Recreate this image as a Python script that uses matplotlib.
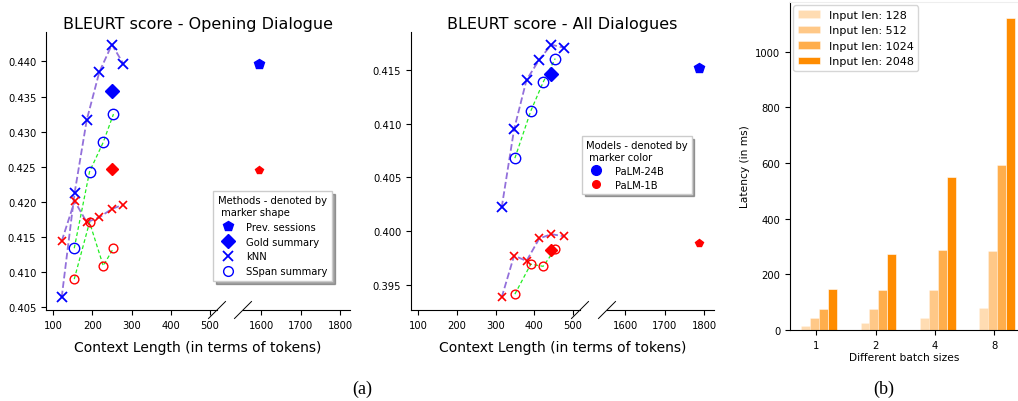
import matplotlib
matplotlib.use('Agg')
import matplotlib.pyplot as plt
from matplotlib.lines import Line2D

# ---------------- data ----------------
# Opening Dialogue
od_knn_x = [122, 155, 186, 218, 250, 279]
od_knn_24b = [0.4064, 0.4213, 0.4317, 0.4385, 0.4424, 0.4397]
od_knn_1b = [0.4144, 0.4201, 0.4171, 0.4178, 0.4190, 0.4196]
od_sspan_x = [154, 193, 228, 254]
od_sspan_24b = [0.4134, 0.4243, 0.4285, 0.4325]
od_sspan_1b = [0.4090, 0.4171, 0.4109, 0.4134]
od_gold_x = [251]
od_gold_24b = [0.4358]
od_gold_1b = [0.4247]
od_prev_x = [1593]
od_prev_24b = [0.4396]
od_prev_1b = [0.4246]
od_yticks = [0.405, 0.410, 0.415, 0.420, 0.425, 0.430, 0.435, 0.440]

# All Dialogues
ad_knn_x = [316, 348, 380, 413, 444, 477]
ad_knn_24b = [0.4022, 0.4095, 0.4141, 0.4160, 0.4174, 0.4171]
ad_knn_1b = [0.3938, 0.3977, 0.3972, 0.3993, 0.3997, 0.3995]
ad_sspan_x = [350, 391, 423, 454]
ad_sspan_24b = [0.4068, 0.4112, 0.4139, 0.4161]
ad_sspan_1b = [0.3941, 0.3969, 0.3967, 0.3983]
ad_gold_x = [443]
ad_gold_24b = [0.4147]
ad_gold_1b = [0.3982]
ad_prev_x = [1786]
ad_prev_24b = [0.4152]
ad_prev_1b = [0.3989]
ad_yticks = [0.395, 0.400, 0.405, 0.410, 0.415]

left_xticks = [100, 200, 300, 400, 500]
right_xticks = [1600, 1700, 1800]

# Latency
batch_sizes = ['1', '2', '4', '8']
input_lens = ['Input len: 128', 'Input len: 512', 'Input len: 1024', 'Input len: 2048']
lat_128 = [16, 25, 42, 79]
lat_512 = [42, 75, 142, 283]
lat_1024 = [77, 142, 288, 592]
lat_2048 = [147, 273, 548, 1122]

# ---------------- figure ----------------
W, H = 1018, 402
fig = plt.figure(figsize=(W / 100, H / 100), dpi=100)

def fx(px):
    return px / W

def fy(py):
    return 1 - py / H

TICK_FS = 7.2
BLUE, RED = '#0000ff', '#ff0000'
KNN_LC, SS_LC = '#9370db', '#22ee22'


def make_panel(x0, x1, x2, x3, top, bottom, data, yticks, title):
    (knn_x, knn_b, knn_r, ss_x, ss_b, ss_r, g_x, g_b, g_r, p_x, p_b, p_r) = data
    axl = fig.add_axes([fx(x0), fy(bottom), fx(x1 - x0), (bottom - top) / H])
    axr = fig.add_axes([fx(x2), fy(bottom), fx(x3 - x2), (bottom - top) / H], sharey=axl)
    # lines
    axl.plot(knn_x, knn_b, ls='--', color=KNN_LC, lw=1.3, zorder=1)
    axl.plot(knn_x, knn_r, ls='--', color=KNN_LC, lw=1.3, zorder=1)
    axl.plot(ss_x, ss_b, ls=(0, (3, 2)), color=SS_LC, lw=0.9, zorder=1)
    axl.plot(ss_x, ss_r, ls=(0, (3, 2)), color=SS_LC, lw=0.9, zorder=1)
    # markers PaLM-24B (blue, larger), PaLM-1B (red, smaller)
    axl.plot(knn_x, knn_b, ls='', marker='x', color=BLUE, ms=7, mew=1.3, zorder=3)
    axl.plot(knn_x, knn_r, ls='', marker='x', color=RED, ms=6, mew=1.2, zorder=3)
    axl.plot(ss_x, ss_b, ls='', marker='o', mfc='none', mec=BLUE, ms=7.5, mew=1.0, zorder=3)
    axl.plot(ss_x, ss_r, ls='', marker='o', mfc='none', mec=RED, ms=6.3, mew=1.0, zorder=3)
    axl.plot(g_x, g_b, ls='', marker='D', color=BLUE, ms=7.5, zorder=3)
    axl.plot(g_x, g_r, ls='', marker='D', color=RED, ms=6, zorder=3)
    axr.plot(p_x, p_b, ls='', marker='p', color=BLUE, ms=7.5, zorder=3)
    axr.plot(p_x, p_r, ls='', marker='p', color=RED, ms=6, zorder=3)

    axl.set_xlim(82, 518)
    axr.set_xlim(1553, 1825)
    axl.set_xticks(left_xticks)
    axr.set_xticks(right_xticks)
    axl.set_yticks(yticks)
    axl.set_yticklabels(['%.3f' % v for v in yticks])
    for ax in (axl, axr):
        ax.spines['top'].set_visible(False)
        ax.spines['right'].set_visible(False)
        ax.tick_params(labelsize=TICK_FS, length=3.5, width=0.8)
    axr.spines['left'].set_visible(False)
    axr.tick_params(axis='y', left=False, labelleft=False)

    # break marks
    for xe in (x1, x2):
        fig.add_artist(Line2D([fx(xe - 8.5), fx(xe + 8.5)], [fy(bottom + 8.5), fy(bottom - 8.5)],
                              transform=fig.transFigure, color='black', lw=0.7))
    cx = (x0 + x3) / 2
    fig.text(fx(cx), fy(29.5), title, ha='center', va='baseline', fontsize=11.5)
    fig.text(fx(cx), fy(352.5), 'Context Length (in terms of tokens)', ha='center',
             va='baseline', fontsize=10)
    return axl, axr


od_data = (od_knn_x, od_knn_24b, od_knn_1b, od_sspan_x, od_sspan_24b, od_sspan_1b,
           od_gold_x, od_gold_24b, od_gold_1b, od_prev_x, od_prev_24b, od_prev_1b)
ad_data = (ad_knn_x, ad_knn_24b, ad_knn_1b, ad_sspan_x, ad_sspan_24b, ad_sspan_1b,
           ad_gold_x, ad_gold_24b, ad_gold_1b, ad_prev_x, ad_prev_24b, ad_prev_1b)

ax1l, ax1r = make_panel(46, 217, 243, 350, 33, 311, od_data, od_yticks,
                        'BLEURT score - Opening Dialogue')
ax2l, ax2r = make_panel(411, 580, 607, 714, 33, 311, ad_data, ad_yticks,
                        'BLEURT score - All Dialogues')

# legends
meth_handles = [
    Line2D([], [], ls='', marker='p', color=BLUE, ms=7),
    Line2D([], [], ls='', marker='D', color=BLUE, ms=7),
    Line2D([], [], ls='', marker='x', color=BLUE, ms=7, mew=1.3),
    Line2D([], [], ls='', marker='o', mfc='none', mec=BLUE, ms=7),
]
leg1 = fig.legend(meth_handles, ['Prev. sessions', 'Gold summary', 'kNN', 'SSpan summary'],
                  title='Methods - denoted by\n marker shape', loc='upper left',
                  bbox_to_anchor=(fx(213), fy(192)), borderaxespad=0,
                  fontsize=7.2, title_fontsize=7.2,
                  shadow=True, fancybox=False, framealpha=1, edgecolor='#cccccc',
                  handletextpad=0.9, borderpad=0.45, labelspacing=0.48)
leg1._legend_box.align = 'left'

model_handles = [
    Line2D([], [], ls='', marker='o', color=BLUE, ms=7),
    Line2D([], [], ls='', marker='o', color=RED, ms=5.5),
]
leg2 = fig.legend(model_handles, ['PaLM-24B', 'PaLM-1B'],
                  title='Models - denoted by\n marker color', loc='upper left',
                  bbox_to_anchor=(fx(582), fy(137)), borderaxespad=0,
                  fontsize=7.2, title_fontsize=7.2,
                  shadow=True, fancybox=False, framealpha=1, edgecolor='#cccccc',
                  handletextpad=0.9, borderpad=0.4, labelspacing=0.4)
leg2._legend_box.align = 'left'

# ---------------- latency bars ----------------
ax3 = fig.add_axes([fx(790), fy(331), fx(W - 790), (331 - 3) / H])
lat_series = [lat_128, lat_512, lat_1024, lat_2048]
alphas = [0.3, 0.47, 0.7, 1.0]
bw = 0.15
for i, (lab, vals) in enumerate(zip(input_lens, lat_series)):
    pos = [g + (i - 1.2) * bw for g in range(len(batch_sizes))]
    ax3.bar(pos, vals, width=bw, color='darkorange', alpha=alphas[i], label=lab,
            edgecolor='white', linewidth=0.4)
ax3.set_xticks(range(len(batch_sizes)))
ax3.set_xticklabels(batch_sizes)
ax3.set_xlim(-0.444, 3.397)
ax3.set_ylim(0, 1178)
ax3.set_yticks([0, 200, 400, 600, 800, 1000])
ax3.tick_params(labelsize=7.2, length=3.5, width=0.8)
ax3.spines['right'].set_visible(False)
ax3.spines['top'].set_color('#eeeeee')
ax3.set_xlabel('Different batch sizes', fontsize=7.7, labelpad=2)
ax3.set_ylabel('Latency (in ms)', fontsize=7.7)
ax3.legend(loc='upper left', fontsize=8, borderaxespad=0.3)

# panel captions
fig.text(fx(362), fy(389), '(a)', ha='center', va='center', fontsize=13,
         family='Liberation Serif')
fig.text(fx(884), fy(389), '(b)', ha='center', va='center', fontsize=13,
         family='Liberation Serif')

fig.savefig('out.png', dpi=100)
